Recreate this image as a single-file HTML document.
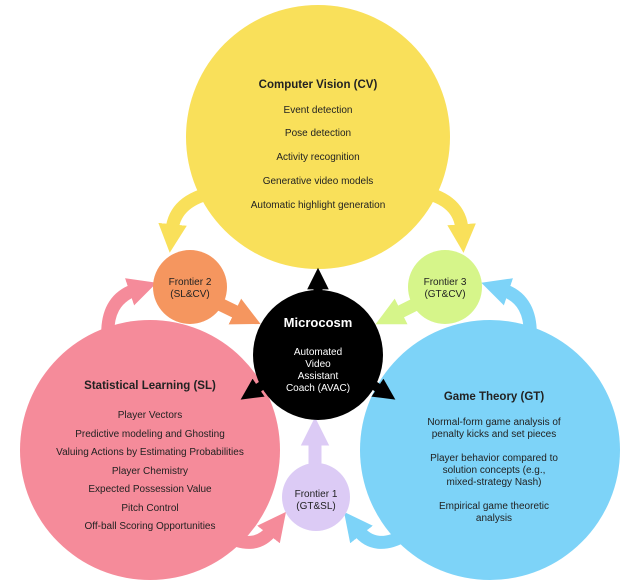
<!DOCTYPE html>
<html><head><meta charset="utf-8"><style>
html,body{margin:0;padding:0;background:#fff;}
svg{display:block;font-family:"Liberation Sans",sans-serif;}
</style></head><body>
<svg width="630" height="586" viewBox="0 0 630 586" xmlns="http://www.w3.org/2000/svg">
<defs>
<marker id="my" viewBox="0 0 10 10" refX="2" refY="5" markerWidth="2.2" markerHeight="2.6" orient="auto"><path d="M0,0 L10,5 L0,10 z" fill="#f9e05a"/></marker>
<marker id="mp" viewBox="0 0 10 10" refX="2" refY="5" markerWidth="2.2" markerHeight="2.6" orient="auto"><path d="M0,0 L10,5 L0,10 z" fill="#f58b9a"/></marker>
<marker id="mb" viewBox="0 0 10 10" refX="2" refY="5" markerWidth="2.2" markerHeight="2.6" orient="auto"><path d="M0,0 L10,5 L0,10 z" fill="#7dd3f8"/></marker>
<marker id="mo" viewBox="0 0 10 10" refX="2" refY="5" markerWidth="2.2" markerHeight="2.6" orient="auto"><path d="M0,0 L10,5 L0,10 z" fill="#f5965f"/></marker>
<marker id="mg" viewBox="0 0 10 10" refX="2" refY="5" markerWidth="2.2" markerHeight="2.6" orient="auto"><path d="M0,0 L10,5 L0,10 z" fill="#d6f58a"/></marker>
<marker id="mv" viewBox="0 0 10 10" refX="2" refY="5" markerWidth="2.2" markerHeight="2.6" orient="auto"><path d="M0,0 L10,5 L0,10 z" fill="#dccbf5"/></marker>
<marker id="mk" viewBox="0 0 10 10" refX="2" refY="5" markerWidth="2.4" markerHeight="2.8" orient="auto"><path d="M0,0 L10,5 L0,10 z" fill="#000"/></marker>
</defs>
<!-- curved arrows -->
<path d="M215,192 Q175,200 172,230" stroke="#f9e05a" stroke-width="13" fill="none" marker-end="url(#my)"/>
<path d="M422,192 Q460,200 462,230" stroke="#f9e05a" stroke-width="13" fill="none" marker-end="url(#my)"/>
<path d="M108,340 Q105,300 135,290" stroke="#f58b9a" stroke-width="13" fill="none" marker-end="url(#mp)"/>
<path d="M530,340 Q533,300 503,290" stroke="#7dd3f8" stroke-width="13" fill="none" marker-end="url(#mb)"/>
<path d="M225,535 Q255,552 272,530" stroke="#f58b9a" stroke-width="13" fill="none" marker-end="url(#mp)"/>
<path d="M405,535 Q375,552 358,530" stroke="#7dd3f8" stroke-width="13" fill="none" marker-end="url(#mb)"/>
<!-- circles -->
<circle cx="318" cy="137" r="132" fill="#f9e05a"/>
<circle cx="150" cy="450" r="130" fill="#f58b9a"/>
<circle cx="490" cy="450" r="130" fill="#7dd3f8"/>
<!-- straight arrows -->
<path d="M205,297 L240,314" stroke="#f5965f" stroke-width="13" marker-end="url(#mo)"/>
<path d="M430,297 L396,314" stroke="#d6f58a" stroke-width="13" marker-end="url(#mg)"/>
<path d="M315,475 L315,440" stroke="#dccbf5" stroke-width="13" marker-end="url(#mv)"/>
<path d="M318,300 L318,285" stroke="#000" stroke-width="9" marker-end="url(#mk)"/>
<path d="M270,380 L255,390" stroke="#000" stroke-width="9" marker-end="url(#mk)"/>
<path d="M366,380 L381,390" stroke="#000" stroke-width="9" marker-end="url(#mk)"/>
<circle cx="318" cy="355" r="65" fill="#000"/>
<circle cx="190" cy="287" r="37" fill="#f5965f"/>
<circle cx="445" cy="287" r="37" fill="#d6f58a"/>
<circle cx="316" cy="497" r="34" fill="#dccbf5"/>
<g font-size="10" fill="#222" text-anchor="middle">
<text x="318" y="88" font-weight="bold" font-size="11.5">Computer Vision (CV)</text>
<text x="318" y="113">Event detection</text>
<text x="318" y="136">Pose detection</text>
<text x="318" y="160">Activity recognition</text>
<text x="318" y="184">Generative video models</text>
<text x="318" y="208">Automatic highlight generation</text>
<text x="150" y="389" font-weight="bold" font-size="11.5">Statistical Learning (SL)</text>
<text x="150" y="418">Player Vectors</text>
<text x="150" y="437">Predictive modeling and Ghosting</text>
<text x="150" y="455">Valuing Actions by Estimating Probabilities</text>
<text x="150" y="474">Player Chemistry</text>
<text x="150" y="492">Expected Possession Value</text>
<text x="150" y="511">Pitch Control</text>
<text x="150" y="529">Off-ball Scoring Opportunities</text>
<text x="494" y="400" font-weight="bold" font-size="11.5">Game Theory (GT)</text>
<text x="494" y="425">Normal-form game analysis of</text>
<text x="494" y="437">penalty kicks and set pieces</text>
<text x="494" y="461">Player behavior compared to</text>
<text x="494" y="473">solution concepts (e.g.,</text>
<text x="494" y="485">mixed-strategy Nash)</text>
<text x="494" y="509">Empirical game theoretic</text>
<text x="494" y="521">analysis</text>
<text x="190" y="285">Frontier 2</text>
<text x="190" y="297">(SL&amp;CV)</text>
<text x="445" y="285">Frontier 3</text>
<text x="445" y="297">(GT&amp;CV)</text>
<text x="316" y="497">Frontier 1</text>
<text x="316" y="509">(GT&amp;SL)</text>
<text x="318" y="327" fill="#fff" font-weight="bold" font-size="13">Microcosm</text>
<text x="318" y="355" fill="#fff">Automated</text>
<text x="318" y="367" fill="#fff">Video</text>
<text x="318" y="379" fill="#fff">Assistant</text>
<text x="318" y="391" fill="#fff">Coach (AVAC)</text>
</g>
</svg>
</body></html>
